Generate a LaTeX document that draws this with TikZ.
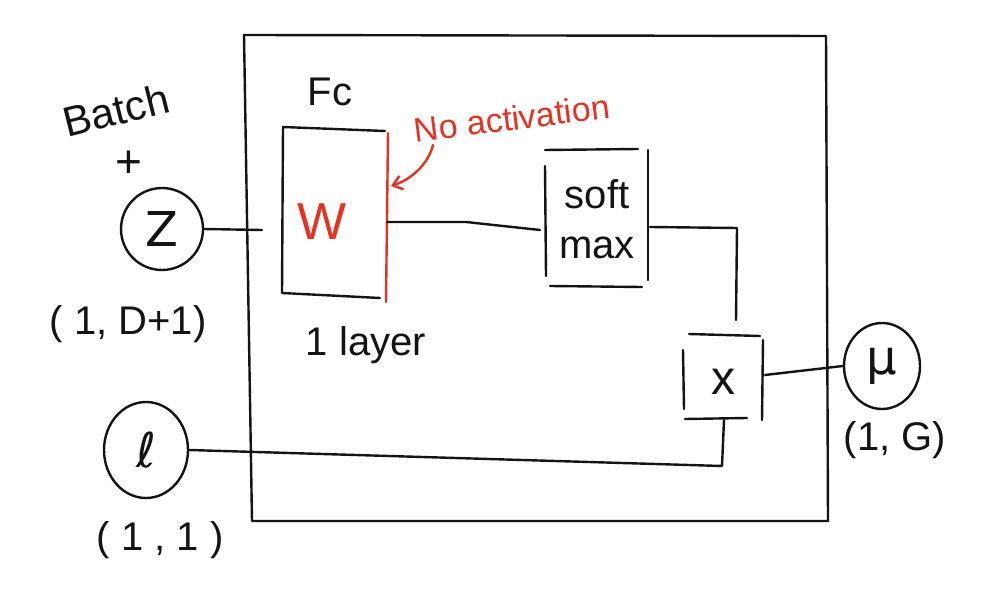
\documentclass[tikz,border=0pt]{standalone}
\usepackage{fontspec}
\setmainfont{Liberation Sans}
\newfontfamily\dvfont{DejaVu Sans}
\usetikzlibrary{arrows.meta,shapes.geometric}
\definecolor{pen}{RGB}{20,20,20}
\definecolor{redpen}{RGB}{230,50,35}
\begin{document}
\begin{tikzpicture}[x=1pt,y=-1pt,
  ink/.style={line width=2.4pt,draw=pen,line cap=round,line join=round},
  redink/.style={line width=2.4pt,draw=redpen,line cap=round,line join=round},
  lbl/.style={text=pen,font=\fontsize{40}{42}\selectfont,inner sep=0pt},
  rlbl/.style={text=redpen,font=\fontsize{34}{36}\selectfont,inner sep=0pt},
  var/.style={ellipse,ink,inner sep=0pt,text=pen,font=\dvfont\fontsize{48}{48}\selectfont}]
\useasboundingbox (0,0) rectangle (1006,609);
\fill[white] (0,0) rectangle (1006,609);
% outer module box
\draw[ink] (244,35) -- (826,36) -- (828,521) -- (252,521) -- cycle;
% input nodes
\node[var,minimum width=82pt,minimum height=82pt] (z) at (162,229) {Z};
\node[var,minimum width=84pt,minimum height=96pt] (l) at (146,450) {ℓ};
\node[var,minimum width=76pt,minimum height=86pt] (mu) at (882,366) {μ};
% labels
\node[lbl,rotate=14,font=\fontsize{42}{44}\selectfont] (batch) at (116,110) {Batch};
\node[lbl,font=\fontsize{46}{46}\selectfont] (plus) at (129,164) {+};
\node[lbl] (zdim) at (128,324) {( 1, D+1)};
\node[lbl] (ldim) at (160,540) {( 1 , 1 )};
\node[lbl] (mudim) at (895,440) {(1, G)};
\node[lbl] (fc) at (330,92) {Fc};
\node[lbl] (layer) at (366,345) {1 layer};
\node[rlbl,rotate=7] (noact) at (512,118) {No activation};
% FC box
\coordinate (fcout) at (387,222);
\draw[ink] (385,131) -- (283,127) -- (282,293) -- (380,298);
\draw[redink] (388,133) -- (386,302);
\node[rlbl,font=\fontsize{52}{52}\selectfont] (w) at (322,222) {W};
\draw[redink,-{Straight Barb[length=9pt,width=14pt]}] (433,145) .. controls (428,165) and (410,180) .. (391,186);
% softmax box
\node[lbl,align=center,font=\fontsize{40}{50}\selectfont] (sm) at (597,219) {soft\\ max};
\draw[ink] (545,150) -- (638,149);
\draw[ink] (545,166) -- (546,276);
\draw[ink] (550,286) -- (642,287);
\draw[ink] (648,150) -- (648,280);
% multiply box
\node[lbl,font=\fontsize{48}{48}\selectfont] (mul) at (723,382) {x};
\draw[ink] (689,334) -- (760,336);
\draw[ink] (683,350) -- (684,409);
\draw[ink] (763,340) -- (762,420);
\draw[ink] (685,419) -- (747,418);
% connectors
\draw[ink] (z.east) -- (262,230);
\draw[ink] (fcout) -- (466,222) -- (540,230);
\draw[ink] (650,227) -- (737,228) -- (736,320);
\draw[ink] (765,375) -- (mu.west);
\draw[ink] (l.east) -- (722,466) -- (724,420);
\end{tikzpicture}
\end{document}
